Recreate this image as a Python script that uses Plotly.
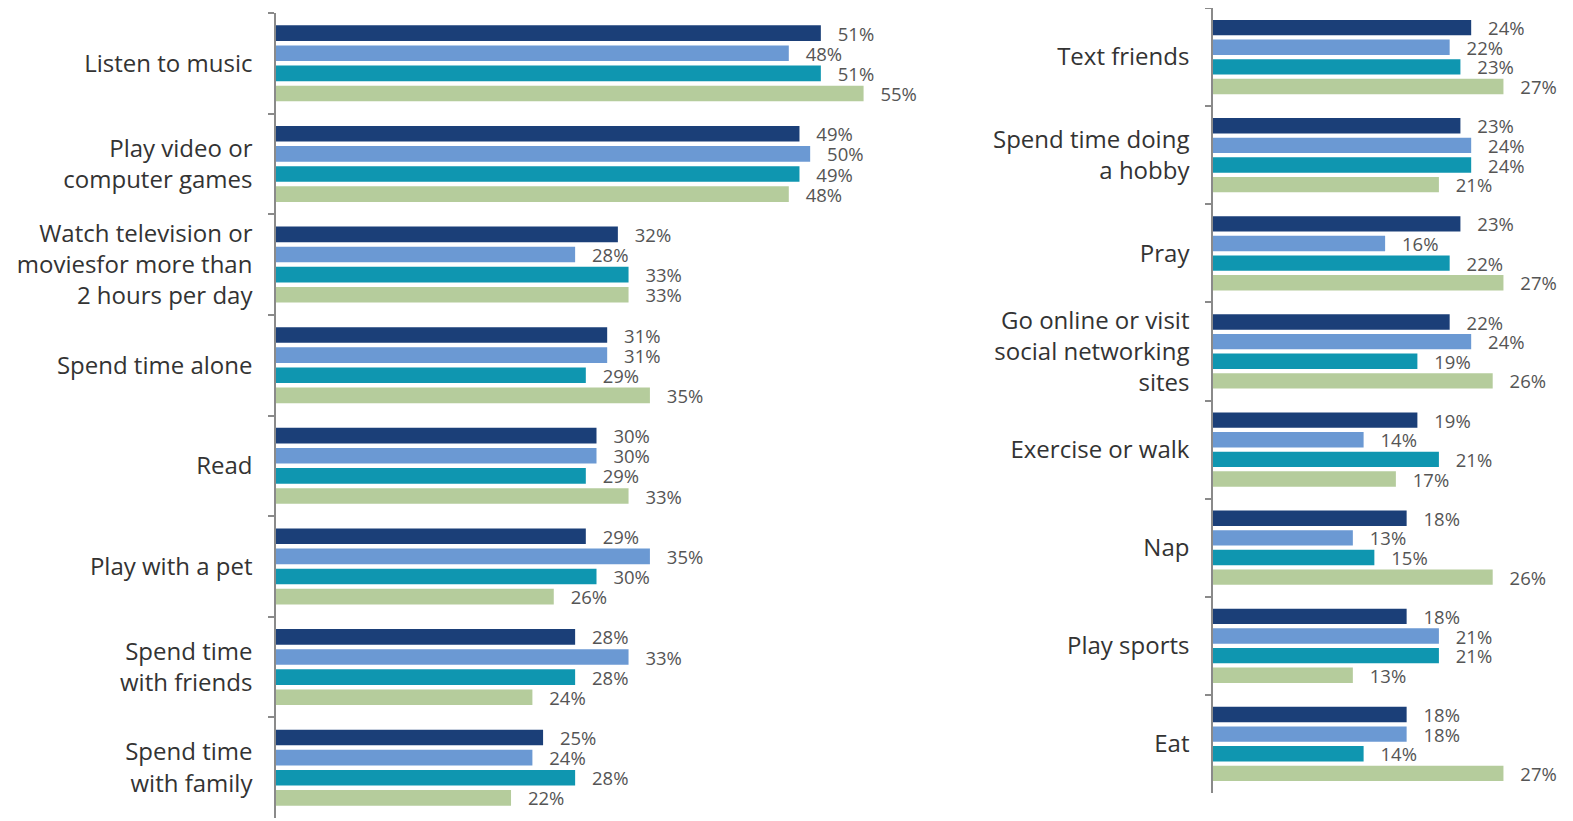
import plotly.graph_objects as go

# ---- data ----
left_categories = [
    "Listen to music",
    "Play video or<br>computer games",
    "Watch television or<br>moviesfor more than<br>2 hours per day",
    "Spend time alone",
    "Read",
    "Play with a pet",
    "Spend time<br>with friends",
    "Spend time<br>with family",
]
right_categories = [
    "Text friends",
    "Spend time doing<br>a hobby",
    "Pray",
    "Go online or visit<br>social networking<br>sites",
    "Exercise or walk",
    "Nap",
    "Play sports",
    "Eat",
]
series_names = ["Group 1", "Group 2", "Group 3", "Group 4"]
series_colors = ["#1b3f78", "#6b99d3", "#0f96b0", "#b5cc9c"]

left_values = [
    [51, 49, 32, 31, 30, 29, 28, 25],
    [48, 50, 28, 31, 30, 35, 33, 24],
    [51, 49, 33, 29, 29, 30, 28, 28],
    [55, 48, 33, 35, 33, 26, 24, 22],
]
right_values = [
    [24, 23, 23, 22, 19, 18, 18, 18],
    [22, 24, 16, 24, 14, 13, 21, 18],
    [23, 24, 22, 19, 21, 15, 21, 14],
    [27, 21, 27, 26, 17, 26, 13, 27],
]

# page has an 8px body margin; figure is sized to fill the rest
OFF = 8
W, H = 1573 - OFF, 821 - OFF
FONT = "Open Sans"
text_tmpl = "\u2002\u2005%{x}%"


def px_x(p):
    return min(1.0, max(0.0, (p - OFF) / W))


def px_y(p):
    return min(1.0, max(0.0, 1 - (p - OFF) / H))


fig = go.Figure()
for i in range(4):
    fig.add_trace(go.Bar(
        y=left_categories, x=left_values[i], orientation="h",
        name=series_names[i], marker=dict(color=series_colors[i], line=dict(width=0)),
        texttemplate=text_tmpl, textposition="outside", cliponaxis=False,
        constraintext="none",
        textfont=dict(family=FONT, size=18.5, color="#555555"),
        xaxis="x", yaxis="y", showlegend=False, hoverinfo="skip",
    ))
for i in range(4):
    fig.add_trace(go.Bar(
        y=right_categories, x=right_values[i], orientation="h",
        name=series_names[i], marker=dict(color=series_colors[i], line=dict(width=0)),
        texttemplate=text_tmpl, textposition="outside", cliponaxis=False,
        constraintext="none",
        textfont=dict(family=FONT, size=18.5, color="#555555"),
        xaxis="x2", yaxis="y2", showlegend=False, hoverinfo="skip",
    ))

hidden_x = dict(showgrid=False, zeroline=False, showline=False,
                showticklabels=False, ticks="", fixedrange=True)
yax = dict(type="category", autorange="reversed", showgrid=False, zeroline=False,
           showline=True, linecolor="#8a8a8a", linewidth=1.5,
           ticks="outside", tickson="boundaries", ticklen=6, tickwidth=1.5,
           tickcolor="#8a8a8a", ticklabelstandoff=17,
           tickfont=dict(family=FONT, size=24, color="#333333"),
           automargin=False)

fig.update_layout(
    width=W, height=H,
    margin=dict(l=0, r=0, t=0, b=0),
    paper_bgcolor="white", plot_bgcolor="white",
    barmode="group", bargap=0.2, bargroupgap=0.22,
    xaxis=dict(domain=[px_x(276), px_x(917)], range=[0, 60], anchor="y", **hidden_x),
    yaxis=dict(domain=[px_y(818), px_y(13)], anchor="x", **yax),
    xaxis2=dict(domain=[px_x(1213), px_x(1568)], range=[0, 33], anchor="y2", **hidden_x),
    yaxis2=dict(domain=[px_y(793), px_y(6)], anchor="x2", **yax),
    font=dict(family=FONT),
)

fig.write_html("out.html")
